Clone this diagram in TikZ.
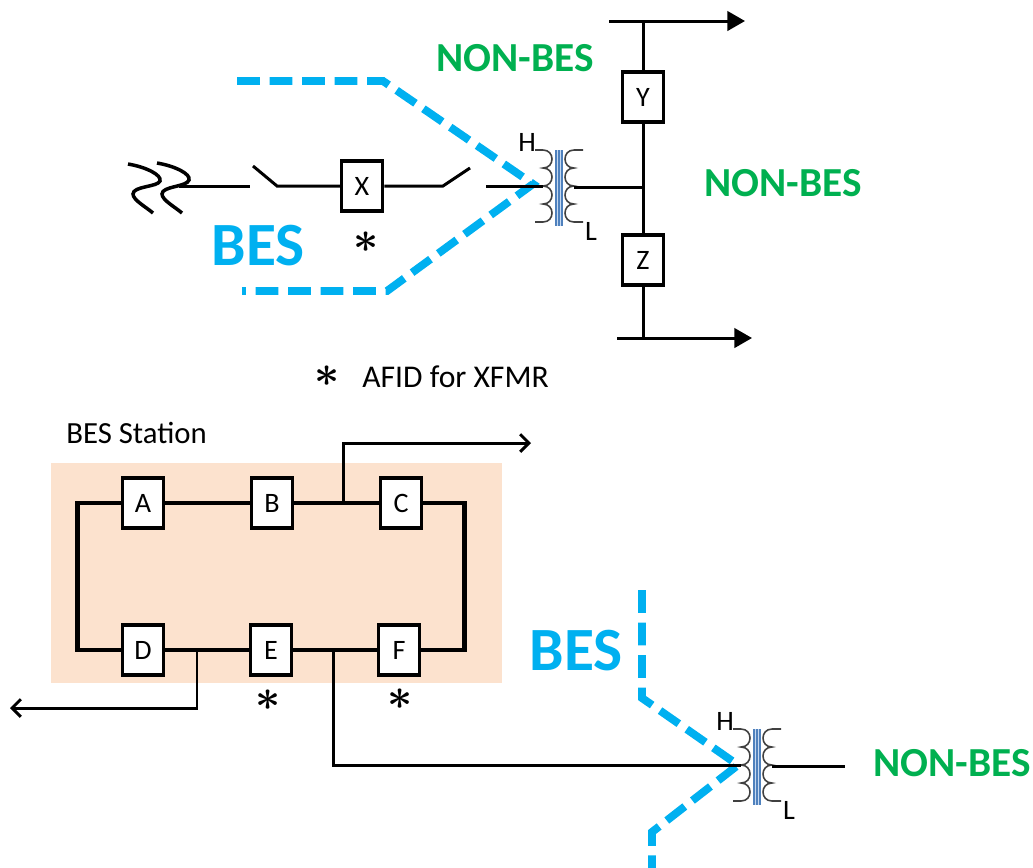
\documentclass[tikz,border=0pt]{standalone}
\usepackage{fontspec}
\setmainfont{Carlito}
\usetikzlibrary{arrows.meta}

\definecolor{besblue}{HTML}{00B0F0}
\definecolor{nonbesgreen}{HTML}{00B050}
\definecolor{peach}{HTML}{FCE2CE}
\definecolor{coreblue}{HTML}{4F81BD}
\definecolor{corelight}{HTML}{C6D9F1}
\definecolor{coilgrey}{HTML}{404040}

\tikzset{
  wire/.style={line width=1.7pt},
  ringwire/.style={line width=2.6pt},
  brkbox/.style={draw,line width=2pt,fill=white,minimum width=0.82cm,minimum height=1cm,inner sep=0pt,font=\fontsize{16}{18}\selectfont},
  besline/.style={draw=besblue,line width=4.5pt,dash pattern=on 13pt off 5.5pt},
  bestext/.style={text=besblue,font=\fontsize{35}{38}\selectfont\bfseries},
  nonbes/.style={text=nonbesgreen,font=\fontsize{23.5}{26}\selectfont\bfseries},
  afid/.style={font=\fontsize{36}{36}\selectfont\boldmath,inner sep=0pt},
  coil/.style={draw=coilgrey,line width=0.9pt},
  hl/.style={font=\fontsize{16}{18}\selectfont,inner sep=0pt},
  xfmr/.pic={
    \fill[corelight] (20,0) rectangle (28,76);
    \foreach \cx in {21,24,27}
      \draw[coreblue,line width=0.8pt] (\cx,0) -- (\cx,76);
    \draw[coil] (0,0) -- (8,0)
      .. controls (20,0) and (20,18) .. (8,18)
      .. controls (20,18) and (20,36) .. (8,36)
      .. controls (20,36) and (20,54) .. (8,54)
      .. controls (20,54) and (20,72) .. (8,72) -- (0,72);
    \draw[coil] (48,0) -- (39,0)
      .. controls (27,0) and (27,18) .. (39,18)
      .. controls (27,18) and (27,36) .. (39,36)
      .. controls (27,36) and (27,54) .. (39,54)
      .. controls (27,54) and (27,72) .. (39,72) -- (48,72);
    \coordinate (-H) at (8,36);
    \coordinate (-L) at (39,37);
    \node[hl] (-hlbl) at (-8,-8) {H};
    \node[hl] (-llbl) at (56,81) {L};
  }
}

\begin{document}
\begin{tikzpicture}[x=0.02cm,y=-0.02cm]
  \useasboundingbox (0,0) rectangle (1033,867);

  % upper one-line
  \draw[besline] (237,81) -- (383,81) -- (533,184) -- (387,291) -- (242,291);
  \pic (T1) at (535,150) {xfmr};
  \node[brkbox] (X) at (362,186) {X};
  \node[brkbox] (Y) at (643,97) {Y};
  \node[brkbox] (Z) at (643,260) {Z};

  \draw[wire,line width=2pt] (128,164) .. controls (146,167) and (162,175) .. (160,181)
    .. controls (158,187) and (133,186) .. (133,194)
    .. controls (133,200) and (146,207) .. (153,213);
  \draw[wire,line width=2pt] (157,163) .. controls (175,166) and (191,174) .. (189,180)
    .. controls (187,187) and (162,186) .. (162,194)
    .. controls (162,200) and (175,207) .. (182,213);

  \coordinate (brk) at (179,186);
  \coordinate (swa) at (250,186);
  \coordinate (swab) at (253,166);
  \coordinate (swap) at (277,186);
  \coordinate (swbp) at (443,186);
  \coordinate (swbb) at (470,168);
  \coordinate (swb) at (486,186);
  \draw[wire] (brk) -- (swa);
  \draw[wire] (swab) -- (swap) -- (X.west);
  \draw[wire] (X.east) -- (swbp) -- (swbb);
  \draw[wire] (swb) -- (T1-H);

  \coordinate (ytop) at (643,21);
  \coordinate (busTL) at (609,21);
  \coordinate (busTR) at (745,21);
  \coordinate (jn) at (643,187);
  \coordinate (zbot) at (643,338);
  \coordinate (busBL) at (617,338);
  \coordinate (busBR) at (752,338);
  \draw[wire,-{Triangle[length=10pt,width=11pt]}] (busTL) -- (busTR);
  \draw[wire,-{Triangle[length=10pt,width=11pt]}] (busBL) -- (busBR);
  \draw[wire] (ytop) -- (Y.north);
  \draw[wire] (Y.south) -- (Z.north);
  \draw[wire] (Z.south) -- (zbot);
  \draw[wire] (T1-L) -- (jn);

  \node[nonbes] (nb1) at (515,58) {NON-BES};
  \node[nonbes] (nb2) at (783,183) {NON-BES};
  \node[bestext] (bes1) at (258,246) {BES};
  \node[afid] (astX) at (366,242) {$\ast$};

  % legend
  \node[afid,font=\fontsize{29}{29}\selectfont\boldmath] (astL) at (327,376) {$\ast$};
  \node[anchor=west,inner sep=0pt,font=\fontsize{18}{20}\selectfont] (legend) at (362,377) {AFID for XFMR};

  % station
  \fill[peach] (51,463) rectangle (502,683);
  \node[anchor=west,inner sep=0pt,font=\fontsize{17.5}{20}\selectfont] (stn) at (66,433) {BES Station};
  \node[brkbox] (A) at (143,503) {A};
  \node[brkbox] (B) at (272,503) {B};
  \node[brkbox] (C) at (401,503) {C};
  \node[brkbox] (D) at (143,650) {D};
  \node[brkbox] (E) at (271,650) {E};
  \node[brkbox] (F) at (399,650) {F};

  \draw[ringwire] (A.west) -- ++(-43,0) |- (D.west);
  \draw[ringwire] (C.east) -- ++(41,0) |- (F.east);
  \draw[ringwire] (A.east) -- (B.west);
  \draw[ringwire] (B.east) -- (C.west);
  \draw[ringwire] (D.east) -- (E.west);
  \draw[ringwire] (E.east) -- (F.west);

  \coordinate (bc) at (343,503);
  \coordinate (outC) at (531,443);
  \coordinate (dd) at (197,650);
  \coordinate (outD) at (10,708);
  \coordinate (ef) at (333,650);
  \draw[wire,-{Straight Barb[length=5pt,width=10pt]}] (bc) |- (outC);
  \draw[wire,-{Straight Barb[length=5pt,width=10pt]}] (dd) |- (outD);

  \node[afid] (astE) at (268,700) {$\ast$};
  \node[afid] (astF) at (400,699) {$\ast$};

  % lower transformer
  \draw[besline] (642,590) -- (642,698) -- (738,765) -- (652,832) -- (652,875);
  \pic (T2) at (733,729) {xfmr};
  \coordinate (lv) at (845,766);
  \draw[wire] (ef) |- (T2-H);
  \draw[wire] (T2-L) -- (lv);
  \node[bestext] (bes2) at (576,651) {BES};
  \node[nonbes] (nb3) at (952,763) {NON-BES};
\end{tikzpicture}
\end{document}
